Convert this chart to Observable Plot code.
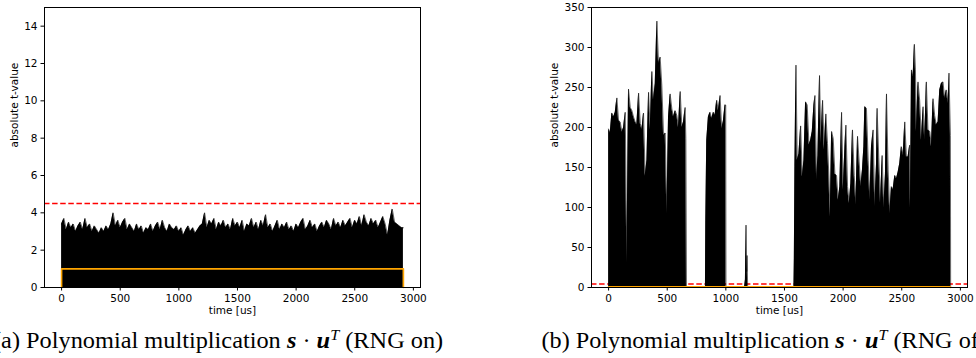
<!DOCTYPE html>
<html><head><meta charset="utf-8">
<script src="https://cdn.jsdelivr.net/npm/d3@7"></script>
<script src="https://cdn.jsdelivr.net/npm/@observablehq/plot@0.6"></script>
<style>
html,body{margin:0;padding:0;background:#fff;}
#wrap{position:relative;width:976px;height:358px;overflow:hidden;background:#fff;}
.panel{position:absolute;top:0;}
#caps{position:absolute;left:0;top:0;}
</style></head><body>
<div id="wrap">
  <div id="pa" class="panel" style="left:0px"></div>
  <div id="pb" class="panel" style="left:540px"></div>
</div>
<script>
// ---------- data ----------
const xTicks = [0, 500, 1000, 1500, 2000, 2500, 3000];
const yTicksA = [0, 2, 4, 6, 8, 10, 12, 14];
const yTicksB = [0, 50, 100, 150, 200, 250, 300, 350];
const threshold = 4.5;

// trigger signal (orange)
const trigT = [0, 0, 2915, 2915];
const trigV = [0, 1, 1, 0];

// (a) RNG on: time [us] and absolute t-value
const tA = [0,20,40,60,80,100,120,140,160,180,200,220,240,260,280,300,320,340,360,380,400,420,440,460,480,500,520,540,560,580,600,620,640,660,680,700,720,740,760,780,800,820,840,860,880,900,920,940,960,980,1000,1020,1040,1060,1080,1100,1120,1140,1160,1180,1200,1220,1240,1260,1280,1300,1320,1340,1360,1380,1400,1420,1440,1460,1480,1500,1520,1540,1560,1580,1600,1620,1640,1660,1680,1700,1720,1740,1760,1780,1800,1820,1840,1860,1880,1900,1920,1940,1960,1980,2000,2020,2040,2060,2080,2100,2120,2140,2160,2180,2200,2220,2240,2260,2280,2300,2320,2340,2360,2380,2400,2420,2440,2460,2480,2500,2520,2540,2560,2580,2600,2620,2640,2660,2680,2700,2720,2740,2760,2780,2800,2820,2840,2860,2880,2900,2915];
const vA = [
3.4,3.7,3.1,3.5,3.2,3.4,3.0,3.3,3.5,3.1,
3.7,3.2,3.4,3.0,3.3,3.1,2.9,3.2,3.0,3.3,
3.1,3.4,4.0,3.3,3.6,3.2,3.5,3.7,3.1,3.4,
3.2,3.0,3.4,3.1,3.3,2.9,3.2,3.1,3.4,3.0,
3.3,3.5,3.1,3.6,3.2,3.0,3.4,3.2,3.1,3.3,
3.0,3.2,2.8,3.1,3.3,3.0,3.2,2.9,3.1,3.3,
3.4,4.0,3.2,3.6,3.4,3.7,3.1,3.5,3.3,3.6,
3.2,3.4,3.1,3.7,3.3,3.5,3.2,3.6,3.0,3.4,
3.3,3.7,3.2,3.5,3.1,3.6,3.3,3.9,3.2,3.4,
3.0,3.3,3.6,3.1,3.4,3.2,3.5,3.1,3.3,3.0,
3.4,3.2,3.5,3.7,3.1,3.3,3.6,3.2,3.4,3.0,
3.3,3.5,3.2,3.6,3.4,3.1,3.7,3.3,3.5,3.2,
3.6,3.3,3.5,3.7,3.2,3.6,3.4,3.8,3.3,3.9,
3.5,3.3,3.7,3.4,3.6,3.2,3.5,3.8,3.4,2.8,
3.6,4.2,3.5,3.4,3.3,3.2,
3.2];

// (b) RNG off: time [us] and absolute t-value
const tB = [0,14,28,43,57,71,85,99,114,128,142,156,170,185,199,213,227,241,256,270,284,298,312,327,341,355,369,383,398,412,426,440,454,469,483,497,511,525,540,554,568,582,596,611,625,639,653,
659,661,664,700,750,800,826,
829,837,851,865,880,894,908,922,936,951,965,979,993,999,
1001,1050,1100,1160,1167,1172,1178,1181,1186,1250,1350,1450,1550,1581,
1584,1589,1598,1609,1623,1638,1652,1666,1680,1694,1709,1723,1737,1751,1760,1774,1785,1799,1811,1825,1839,1853,1867,1879,1890,1902,1916,1930,1944,1958,1972,1987,2001,2015,2024,2038,2052,2066,2080,2095,2109,2123,2137,2151,2165,2177,2185,2199,2214,2228,2242,2256,2270,2285,2290,2304,2319,2333,2347,2361,2370,2384,2398,2412,2426,2441,2455,2469,2483,2497,2512,2526,2540,2554,2568,2574,2583,2597,2608,2617,2625,2639,2653,2668,2682,2696,2710,2724,2739,2753,2767,2781,2795,2810,2824,2838,2852,2866,2880,2895,2903,2915,2917];
const vB = [
198,193,218,213,219,237,209,207,194,200,219,30,248,225,221,213,207,203,243,205,197,218,139,159,244,197,270,234,255,333,280,288,253,190,193,92,213,242,223,213,221,215,200,245,200,207,225,
186,117,1,1.2,0.8,1.1,1,
84,184,213,219,211,219,215,234,221,240,198,208,228,228,
1,1.2,0.9,1,10,78,20,40,1,1.1,0.9,1.2,1,1,
36,151,278,159,167,202,138,159,232,228,
178,184,195,228,240,134,165,265,180,234,
172,217,180,138,88,195,186,142,140,109,
126,219,122,174,203,126,105,130,197,140,
103,189,157,126,147,176,226,224,159,109,
176,197,101,155,224,163,105,165,99,142,
242,147,92,126,122,140,136,144,155,176,
165,207,163,163,178,99,272,263,304,272,
195,257,234,184,226,184,257,197,195,176,
236,215,203,207,247,255,257,236,247,230,
268,190,0];

const xLabel = "time [us]";
const yLabel = "absolute t-value";
const captions = [
  {letter: "a", tail: "(RNG on)", x0: -7},
  {letter: "b", tail: "(RNG off)", x0: 541.5}
];

// ---------- build ----------
const rows = (T, V) => T.map((t, i) => ({t, v: V[i]}));
const dataA = rows(tA, vA);
const dataB = rows(tB, vB);
const trig = rows(trigT, trigV);
const xDomain = [-145.75, 3060.75];
const fmt = d3.format("d");

function panel({data, yDomain, yTicks, width, marginLeft, marginRight, labelDx}) {
  return Plot.plot({
    width, height: 320,
    marginLeft, marginRight, marginTop: 7, marginBottom: 33,
    style: {fontFamily: "'DejaVu Sans', sans-serif", fontSize: "10.5px", color: "black", background: "white"},
    x: {domain: xDomain},
    y: {domain: yDomain},
    marks: [
      Plot.ruleY([threshold], {stroke: "#ff0000", strokeWidth: 1.5, strokeDasharray: "5.5,2.6"}),
      Plot.areaY(data, {x: "t", y: "v", fill: "black"}),
      Plot.lineY(data, {x: "t", y: "v", stroke: "black", strokeWidth: 0.6}),
      Plot.line(trig, {x: "t", y: "v", stroke: "#ffa500", strokeWidth: 1.6}),
      Plot.frame({stroke: "black", strokeWidth: 1}),
      Plot.axisX({ticks: xTicks, tickSize: 3.5, tickPadding: 4, tickFormat: fmt, label: null}),
      Plot.axisY({ticks: yTicks, tickSize: 3.5, tickPadding: 3.5, tickFormat: fmt, label: null}),
      Plot.text([xLabel], {frameAnchor: "bottom", dy: 26, fontSize: 10.5}),
      Plot.text([yLabel], {frameAnchor: "left", dx: labelDx, rotate: -90, fontSize: 10.5})
    ]
  });
}

document.getElementById("pa").append(panel({data: dataA, yDomain: [0, 15], yTicks: yTicksA, width: 440, marginLeft: 44, marginRight: 20, labelDx: -30}));
document.getElementById("pb").append(panel({data: dataB, yDomain: [0, 350], yTicks: yTicksB, width: 436, marginLeft: 51, marginRight: 9, labelDx: -36.5}));

// captions
const svg = d3.select("#wrap").append("svg").attr("id", "caps").attr("width", 976).attr("height", 358);
for (const c of captions) {
  const t = svg.append("text").attr("x", 0).attr("y", 348)
    .attr("font-family", "'Liberation Serif', serif").attr("font-size", 22.5).attr("fill", "black");
  const pre = t.append("tspan").text(`(${c.letter}) Polynomial multiplication`);
  t.append("tspan").text(" ");
  t.append("tspan").attr("font-weight", "bold").attr("font-style", "italic").text("s");
  t.append("tspan").text(" · ");
  t.append("tspan").attr("font-weight", "bold").attr("font-style", "italic").text("u");
  t.append("tspan").attr("font-style", "italic").attr("font-size", 15).attr("dy", -8).text("T");
  t.append("tspan").attr("dy", 8).text(" " + c.tail);
  const L = pre.node().getComputedTextLength();
  const s = L > 0 ? 288 / L : 1;
  t.attr("transform", `translate(${c.x0},0) scale(${s},1)`);
}
</script>
</body></html>
